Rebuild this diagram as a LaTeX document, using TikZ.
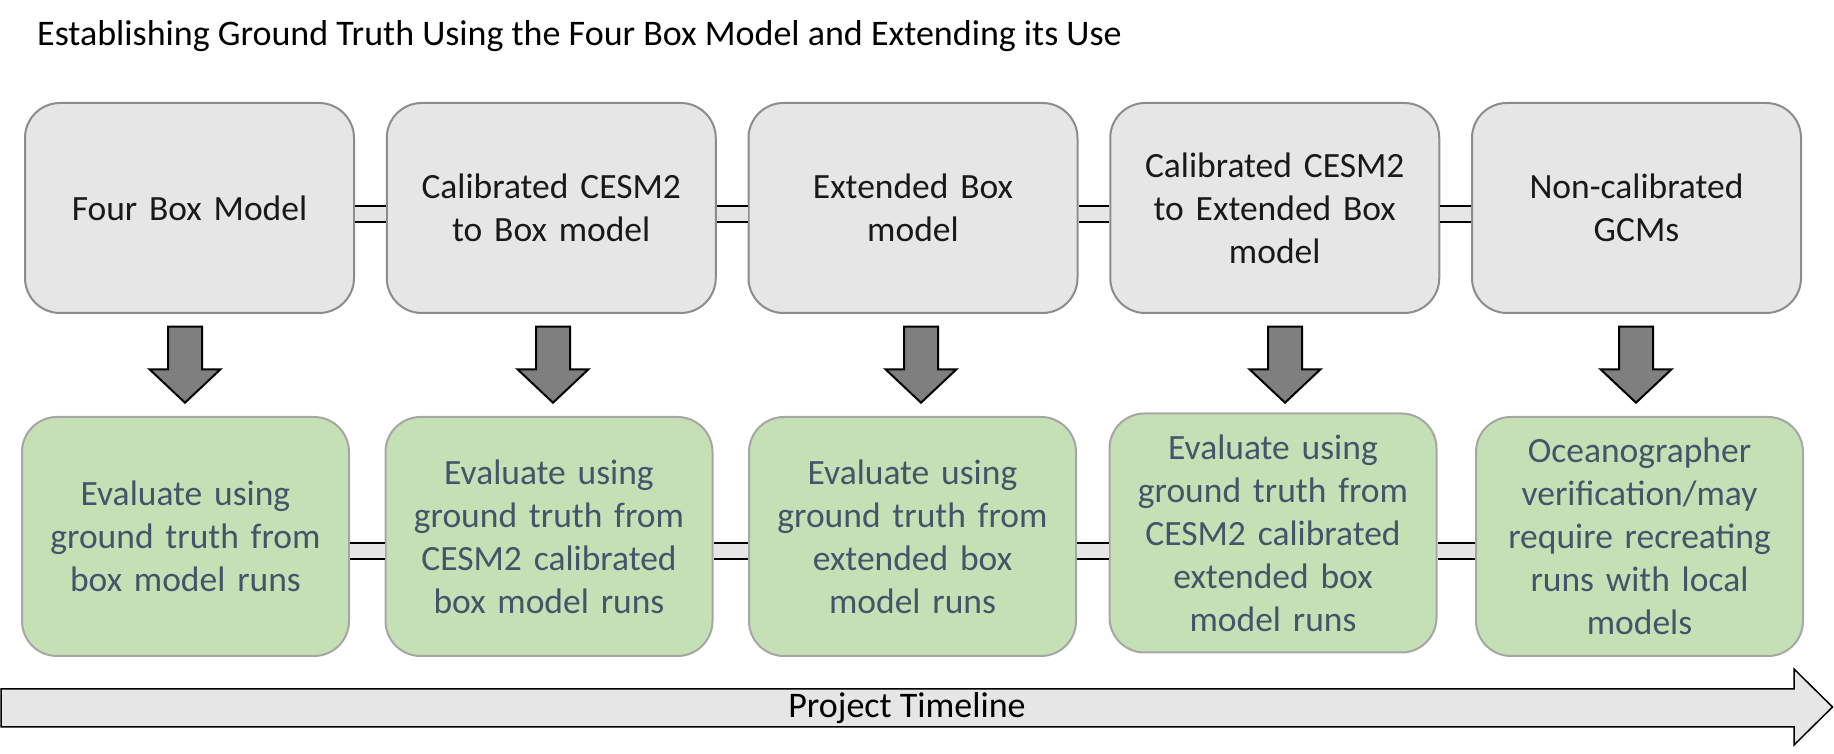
\documentclass[tikz,border=0pt]{standalone}
\usepackage{fontspec}
\setmainfont{Carlito}
\usetikzlibrary{calc}

\definecolor{boxgray}{HTML}{E6E6E6}
\definecolor{edgegray}{HTML}{8C8C8C}
\definecolor{evalgreen}{HTML}{C5E0B4}
\definecolor{evaledge}{HTML}{A6A6A6}
\definecolor{evaltext}{HTML}{44546A}
\definecolor{arrowgray}{HTML}{7F7F7F}

\begin{document}
\begin{tikzpicture}[x=1pt,y=1pt,
        modelbox/.style={draw=edgegray, line width=2pt, fill=boxgray,
            rounded corners=35pt, minimum width=329pt, minimum height=210pt,
            text width=300pt, align=center, inner sep=0pt,
            font=\fontsize{35.5}{43}\selectfont, text=black!90},
        evalbox/.style={draw=evaledge, line width=2pt, fill=evalgreen,
            rounded corners=35pt, minimum width=327pt, minimum height=239pt,
            text width=300pt, align=center, inner sep=0pt,
            font=\fontsize{35.5}{43}\selectfont, text=evaltext},
        link/.style={draw=black, line width=1.5pt, double=boxgray,
            double distance=14.5pt},
        downarrow/.style={draw=black, line width=2pt, fill=arrowgray,
            line join=miter}]
\useasboundingbox (0,0) rectangle (1834,754);

\node[anchor=base west, inner sep=0pt, font=\fontsize{36}{43}\selectfont] (title) at (37,708)
    {Establishing Ground Truth Using the Four Box Model and Extending its Use};

% top row: models
\node[modelbox] (t1) at (189.5,546) {Four Box Model};
\node[modelbox] (t2) at (551.25,546) {Calibrated CESM2\\to Box model};
\node[modelbox] (t3) at (913,546) {Extended Box\\model};
\node[modelbox] (t4) at (1274.75,546) {Calibrated CESM2\\to Extended Box\\model};
\node[modelbox] (t5) at (1636.5,546) {Non-calibrated\\GCMs};

% bottom row: evaluation
\node[evalbox] (b1) at (185.5,217.5) {Evaluate using\\ground truth from\\box model runs};
\node[evalbox] (b2) at (549,217.5) {Evaluate using\\ground truth from\\CESM2 calibrated\\box model runs};
\node[evalbox] (b3) at (912.5,217.5) {Evaluate using\\ground truth from\\extended box\\model runs};
\node[evalbox] (b4) at (1273,221) {Evaluate using\\ground truth from\\CESM2 calibrated\\extended box\\model runs};
\node[evalbox] (b5) at (1639.5,217.5) {Oceanographer\\verification/may\\require recreating\\runs with local\\models};

% links between boxes
\draw[link] ([yshift=-6pt]t1.east) -- ([yshift=-6pt]t1.east -| t2.west);
\draw[link] ([yshift=-6pt]t2.east) -- ([yshift=-6pt]t2.east -| t3.west);
\draw[link] ([yshift=-6pt]t3.east) -- ([yshift=-6pt]t3.east -| t4.west);
\draw[link] ([yshift=-6pt]t4.east) -- ([yshift=-6pt]t4.east -| t5.west);

\draw[link] ([yshift=-14.5pt]b1.east) -- ([yshift=-14.5pt]b1.east -| b2.west);
\draw[link] ([yshift=-14.5pt]b2.east) -- ([yshift=-14.5pt]b2.east -| b3.west);
\draw[link] ([yshift=-14.5pt]b3.east) -- ([yshift=-14.5pt]b3.east -| b4.west);
\draw[link] ([yshift=-14.5pt]b5.west -| b4.east) -- ([yshift=-14.5pt]b5.west);

% down arrows
\foreach \ax [count=\i] in {185,553,921,1285,1636} {
    \coordinate (m\i) at (\ax,389.3);
    \draw[downarrow] (m\i) ++(-17,38) -- ++(34,0) -- ++(0,-42.6) -- ++(18.5,0)
        -- ++(-35.5,-33.4) -- ++(-35.5,33.4) -- ++(18.5,0) -- cycle;
}

% timeline
\draw[draw=black, line width=1.5pt, fill=boxgray, line join=miter]
    (1,65) -- (1794,65) -- (1794,85) -- (1832.5,47) -- (1794,9) -- (1794,27) -- (1,27) -- cycle;
\node[font=\fontsize{36}{43}\selectfont, inner sep=0pt] (timeline) at (907,46) {Project Timeline};

\end{tikzpicture}
\end{document}
